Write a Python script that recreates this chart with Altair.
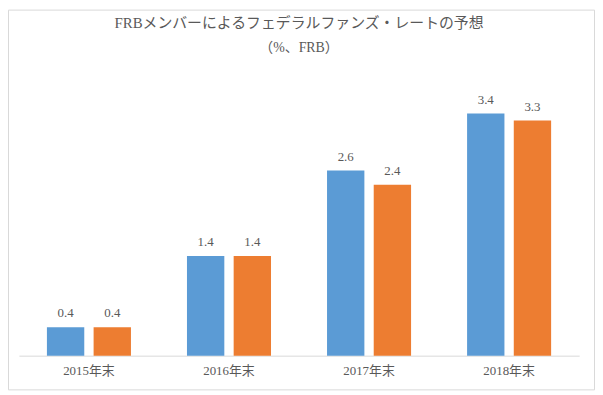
import altair as alt
import pandas as pd

categories = ["2015年末", "2016年末", "2017年末", "2018年末"]
series_a = [0.4, 1.4, 2.6, 3.4]
series_b = [0.4, 1.4, 2.4, 3.3]
series_names = ["系列1", "系列2"]
colors = ["#5B9BD5", "#ED7D31"]
title_text = "FRBメンバーによるフェデラルファンズ・レートの予想"
subtitle_text = "（%、FRB）"

rows = []
for c, a, b in zip(categories, series_a, series_b):
    rows.append({"cat": c, "series": series_names[0], "value": a})
    rows.append({"cat": c, "series": series_names[1], "value": b})
df = pd.DataFrame(rows)

FONT = "'Liberation Serif', 'Noto Sans CJK JP', serif"
TXT = "#595959"

W, H = 565, 273
PL, PT, PR, PB = 11, 76, 16, 35

base = alt.Chart(df).encode(
    x=alt.X("cat:N", sort=categories, title=None,
            scale=alt.Scale(paddingInner=0.4, paddingOuter=0.2),
            axis=alt.Axis(labelAngle=0, ticks=False, domainColor="#D9D9D9",
                          labelFont=FONT, labelFontSize=13, labelColor=TXT,
                          labelPadding=9, grid=False)),
    xOffset=alt.XOffset("series:N", sort=series_names,
                        scale=alt.Scale(paddingInner=0.2, paddingOuter=0)),
    y=alt.Y("value:Q", scale=alt.Scale(domain=[0, 3.8]), axis=None),
)

bars = base.mark_bar().encode(
    color=alt.Color("series:N", sort=series_names,
                    scale=alt.Scale(domain=series_names, range=colors),
                    legend=None)
)

labels = base.mark_text(dy=-10, baseline="alphabetic", font=FONT,
                        fontSize=13, color=TXT).encode(
    text=alt.Text("value:Q", format=".1f")
)

one = pd.DataFrame({"t": [title_text], "s": [subtitle_text]})

title_mark = alt.Chart(one).mark_text(
    font=FONT, fontSize=15, color=TXT, baseline="alphabetic", align="center"
).encode(text="t:N", x=alt.value(W / 2), y=alt.value(-57))

subtitle_mark = alt.Chart(one).mark_text(
    font=FONT, fontSize=14, color=TXT, baseline="alphabetic", align="center"
).encode(text="s:N", x=alt.value(W / 2), y=alt.value(-33))

border = alt.Chart(one).mark_rect(
    fill=None, stroke="#D9D9D9", strokeWidth=1
).encode(
    x=alt.value(-PL + 0.5), x2=alt.value(W + PR - 0.5),
    y=alt.value(-PT + 0.5), y2=alt.value(H + PB - 0.5),
)

chart = alt.layer(bars, labels, title_mark, subtitle_mark, border).properties(
    width=W, height=H,
    background="white",
    autosize=alt.AutoSizeParams(type="none"),
    padding={"left": PL, "top": PT, "right": PR, "bottom": PB},
).configure_view(strokeWidth=0)

chart.save("out.html", embed_options={"renderer": "svg", "actions": False})
